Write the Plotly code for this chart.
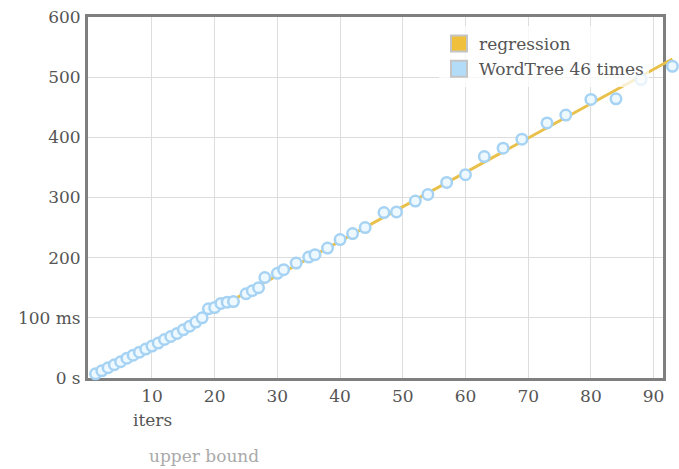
import numpy as np
import plotly.graph_objects as go

# Data
iters = [1, 2, 3, 4, 5, 6, 7, 8, 9, 10, 11, 12, 13, 14, 15, 16, 17, 18,
         19, 20, 21, 22, 23, 25, 26, 27, 28, 30, 31, 33, 35, 36, 38, 40,
         42, 44, 47, 49, 52, 54, 57, 60, 63, 66, 69, 73, 76, 80, 84, 88, 93]
times_ms = [7, 12, 17, 22, 27, 33, 38, 43, 48, 53, 58, 64, 69, 74, 80, 86, 93, 100,
            115, 117, 124, 126, 127, 140, 145, 150, 167, 174, 180, 191, 201, 205, 216, 230,
            240, 250, 275, 276, 294, 305, 325, 338, 368, 382, 397, 424, 437, 463, 464, 496, 518]

y_tick_vals = [0, 100, 200, 300, 400, 500, 600]
y_tick_text = ["0 s", "100 ms", "200", "300", "400", "500", "600"]
x_tick_vals = [10, 20, 30, 40, 50, 60, 70, 80, 90]

series_name = "WordTree 46 times"
reg_name = "regression"

# Regression line fitted from the data
coef = np.polyfit(iters, times_ms, 1)
reg_x = [min(iters), max(iters)]
reg_y = [float(np.polyval(coef, v)) for v in reg_x]

FONT = "DejaVu Serif"
TXT = "#555555"
GOLD = "#e8c04a"
BLUE_FILL = "#eef8ff"
BLUE_EDGE = "#a6d3f3"

W, H = 679, 469
ML, MR, MT, MB = 88, 2, 17, 91
FRAME_RIGHT = 663
X_MIN, X_MAX = -0.2, 91.5
Y_MIN, Y_MAX = 0, 600
pw = W - ML - MR
ph = H - MT - MB
main_frac = (FRAME_RIGHT - ML) / pw
x2_max = X_MIN + (X_MAX - X_MIN) / main_frac

fig = go.Figure()

fig.add_trace(go.Scatter(
    x=reg_x, y=reg_y, mode="lines", name=reg_name, showlegend=False,
    xaxis="x2", yaxis="y2",
    line=dict(color=GOLD, width=3), cliponaxis=False, hoverinfo="skip"))

fig.add_trace(go.Scatter(
    x=iters, y=times_ms, mode="markers", name=series_name, showlegend=False,
    xaxis="x2", yaxis="y2",
    marker=dict(size=10.5, color=BLUE_FILL, line=dict(color=BLUE_EDGE, width=2.5)),
    cliponaxis=False))

# legend-only swatches
fig.add_trace(go.Scatter(
    x=[None], y=[None], mode="markers", name=reg_name,
    marker=dict(symbol="square", size=16, color="#f0c03c", line=dict(color="#c4c4c4", width=2))))
fig.add_trace(go.Scatter(
    x=[None], y=[None], mode="markers", name=series_name,
    marker=dict(symbol="square", size=16, color="#b3dcf8", line=dict(color="#c4c4c4", width=2))))


def px_to_paper(px, py):
    return (px - ML) / pw, (H - MB - py) / ph


ix, iy = px_to_paper(152, 420)
ux, uy = px_to_paper(204, 456)
lx, ly = px_to_paper(439, 26)

fig.update_layout(
    width=W, height=H,
    margin=dict(l=ML, r=MR, t=MT, b=MB),
    paper_bgcolor="white", plot_bgcolor="rgba(0,0,0,0)",
    font=dict(family=FONT, size=17, color=TXT),
    showlegend=True,
    legend=dict(x=lx, y=ly, xanchor="left", yanchor="top",
                bgcolor="rgba(255,255,255,0.75)", borderwidth=0,
                font=dict(family=FONT, size=17, color=TXT), tracegroupgap=0),
    annotations=[
        dict(text="iters", x=ix, y=iy, xref="paper", yref="paper", showarrow=False,
             xanchor="center", yanchor="middle",
             font=dict(family=FONT, size=17, color=TXT)),
        dict(text="upper bound", x=ux, y=uy, xref="paper", yref="paper", showarrow=False,
             xanchor="center", yanchor="middle",
             font=dict(family=FONT, size=17, color="#aaaaaa")),
    ],
    xaxis=dict(
        domain=[0, main_frac], range=[X_MIN, X_MAX], tickvals=x_tick_vals,
        showgrid=True, gridcolor="#dddddd", gridwidth=1,
        zeroline=False, showline=True, linecolor="#7f7f7f", linewidth=3, mirror=True,
        ticks="outside", ticklen=1, tickcolor="rgba(0,0,0,0)",
        tickfont=dict(family=FONT, size=17, color=TXT)),
    yaxis=dict(
        domain=[0, 1], range=[Y_MIN, Y_MAX], tickvals=y_tick_vals, ticktext=y_tick_text,
        showgrid=True, gridcolor="#dddddd", gridwidth=1, zeroline=False, showline=True,
        linecolor="#7f7f7f", linewidth=3, mirror=True, ticks="outside", ticklen=1,
        tickcolor="rgba(0,0,0,0)", tickfont=dict(family=FONT, size=17, color=TXT)),
    xaxis2=dict(
        domain=[0, 1], range=[X_MIN, x2_max], anchor="y2",
        visible=False, showgrid=False, zeroline=False),
    yaxis2=dict(
        domain=[0, 1], range=[Y_MIN, Y_MAX], anchor="x2",
        visible=False, showgrid=False, zeroline=False),
)

fig.write_html("out.html")
